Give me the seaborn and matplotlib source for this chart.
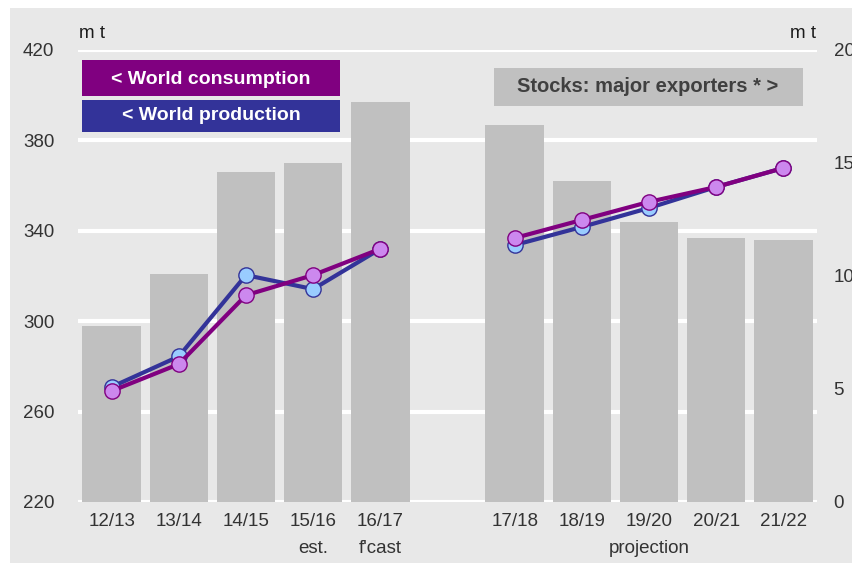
import numpy as np
import pandas as pd
import seaborn as sns
import matplotlib.pyplot as plt
from matplotlib.patches import Rectangle

# seasons and values
seasons = ["12/13", "13/14", "14/15", "15/16", "16/17",
           "17/18", "18/19", "19/20", "20/21", "21/22"]
tick_labels = ["12/13", "13/14", "14/15", "15/16\nest.", "16/17\nf'cast", "",
               "17/18", "18/19", "19/20\nprojection", "20/21", "21/22"]
period = ["hist"] * 5 + ["proj"] * 5
stocks = [7.8, 10.1, 14.6, 15.0, 17.7, 16.7, 14.2, 12.4, 11.7, 11.6]
consumption = [269.1, 281.0, 311.5, 320.4, 332.0, 336.8, 344.8, 352.8, 359.4, 367.8]
production = [270.9, 284.4, 320.4, 314.2, 332.0, 333.7, 341.7, 350.1, 359.4, 367.8]

order = seasons[:5] + [""] + seasons[5:]
pos = [order.index(s) for s in seasons]

sns.set_style("white", {"axes.facecolor": "#e8e8e8"})
plt.rcParams["font.family"] = ["Liberation Sans", "DejaVu Sans"]

fig = plt.figure(figsize=(8.52, 5.63), dpi=100)
fig.patches.append(Rectangle((10 / 852, 0), 1, 1 - 8 / 563, transform=fig.transFigure,
                             facecolor="#e8e8e8", edgecolor="none", zorder=-10))
ax = fig.add_axes([78 / 852, 1 - 502 / 563, (817 - 78) / 852, 452 / 563])
for s in ax.spines.values():
    s.set_visible(False)

# stocks bars on the right scale
for v in [0, 4, 8, 12, 16, 20]:
    ax.axhline(v, color="white", lw=3, zorder=0)
sns.barplot(x=seasons, y=stocks, order=order, color="#c0c0c0", saturation=1,
            width=0.87, linewidth=0, ax=ax, zorder=2)
ax.set_ylim(0, 20)
ax.set_xlim(-0.5, 10.5)
ax.set_xticks(range(len(order)))
ax.set_xticklabels(tick_labels, linespacing=1.75)
ax.tick_params(axis="x", length=0, pad=8, labelsize=13.5, labelcolor="#333333")
ax.set_xlabel("")
ax.set_ylabel("")

# consumption / production lines on the left scale
ax2 = ax.twinx()
for s in ax2.spines.values():
    s.set_visible(False)
df = pd.DataFrame({"pos": pos * 2, "period": period * 2,
                   "value": production + consumption,
                   "series": ["prod"] * 10 + ["cons"] * 10})
styles = {"prod": ("#333399", "#99ccff"), "cons": ("#800080", "#cc88ee")}
for name in ["prod", "cons"]:
    lc, mc = styles[name]
    sns.lineplot(data=df[df.series == name], x="pos", y="value", units="period",
                 estimator=None, color=lc, lw=3, marker="o", markersize=11,
                 markerfacecolor=mc, markeredgecolor=lc, markeredgewidth=1,
                 ax=ax2, zorder=3)
ax2.set_ylim(220, 420)
ax2.set_xlim(-0.5, 10.5)
ax2.set_xlabel("")
ax2.set_ylabel("")

# swap sides after twinx: stocks on the right, tonnes on the left
ax.yaxis.tick_right()
ax.set_yticks([0, 5, 10, 15, 20])
ax.tick_params(axis="y", length=0, pad=12, labelsize=13.5, labelcolor="#333333",
               left=False, labelleft=False, right=True, labelright=True)
ax2.yaxis.tick_left()
ax2.set_yticks([220, 260, 300, 340, 380, 420])
ax2.tick_params(axis="y", length=0, pad=17, labelsize=13.5, labelcolor="#333333",
                right=False, labelright=False, left=True, labelleft=True)

fig.text(79 / 852, 1 - 33 / 563, "m t", fontsize=13.5, color="#1a1a1a", va="center")
fig.text(816 / 852, 1 - 33 / 563, "m t", fontsize=13.5, color="#1a1a1a", va="center", ha="right")

# legend boxes
fig.patches.append(Rectangle((82 / 852, 1 - 96 / 563), 258 / 852, 36 / 563,
                             transform=fig.transFigure, facecolor="#800080", edgecolor="none"))
fig.text(211 / 852, 1 - 79 / 563, "< World consumption", fontsize=14, fontweight="bold",
         color="white", ha="center", va="center")
fig.patches.append(Rectangle((82 / 852, 1 - 132 / 563), 258 / 852, 32 / 563,
                             transform=fig.transFigure, facecolor="#333399", edgecolor="none"))
fig.text(211 / 852, 1 - 116 / 563, "< World production", fontsize=14, fontweight="bold",
         color="white", ha="center", va="center")
fig.patches.append(Rectangle((494 / 852, 1 - 106 / 563), 309 / 852, 38 / 563,
                             transform=fig.transFigure, facecolor="#c0c0c0", edgecolor="none"))
fig.text(648 / 852, 1 - 87 / 563, "Stocks: major exporters * >", fontsize=14.5,
         fontweight="bold", color="#404040", ha="center", va="center")

fig.savefig("out.png", dpi=100)
